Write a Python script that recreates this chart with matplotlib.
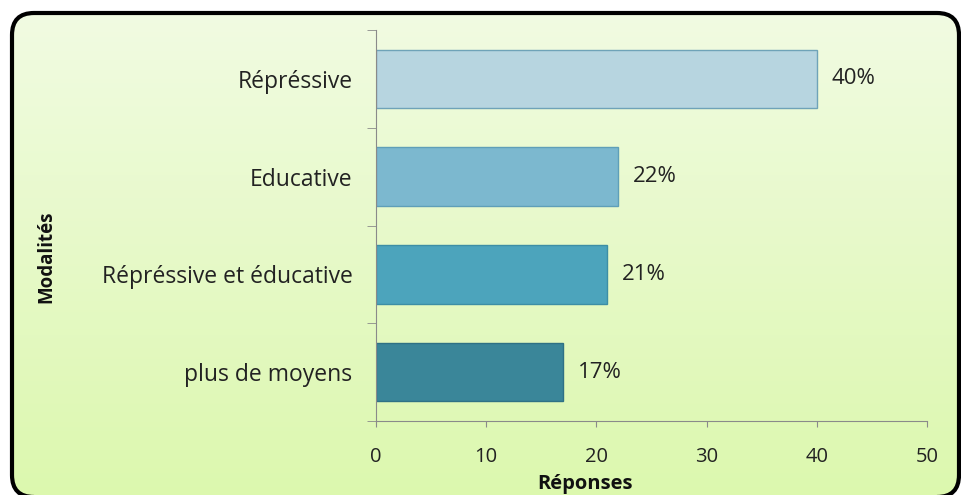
import numpy as np
import matplotlib
matplotlib.use("Agg")
import matplotlib.pyplot as plt
from matplotlib.patches import FancyBboxPatch

categories = ["Répréssive", "Educative", "Répréssive et éducative", "plus de moyens"]
values = [40, 22, 21, 17]
labels = ["40%", "22%", "21%", "17%"]
colors = ["#b7d5e0", "#7cb8cf", "#4ca4bc", "#3a8699"]
edges = ["#6fa3b8", "#5f9fb8", "#3d8ea5", "#2f7185"]

plt.rcParams["font.family"] = ["Open Sans", "DejaVu Sans"]

fig = plt.figure(figsize=(9.62, 4.95), dpi=100)

# panel background: rounded frame with a soft green vertical gradient
bg = fig.add_axes([0, 0, 1, 1], zorder=-1)
bg.set_xlim(0, 962)
bg.set_ylim(0, 495)
bg.axis("off")
frame = FancyBboxPatch((12, -2), 947, 484, boxstyle="round,pad=0,rounding_size=22",
                       facecolor="none", edgecolor="black", linewidth=3, zorder=3,
                       clip_on=False)
bg.add_patch(frame)
grad = np.linspace(1, 0, 256).reshape(-1, 1)
cmap = matplotlib.colors.LinearSegmentedColormap.from_list("g", ["#f1fbe2", "#dcf8ae"])
im = bg.imshow(grad, cmap=cmap, extent=[12, 959, -2, 482], aspect="auto", zorder=1,
               origin="lower")
im.set_clip_path(frame)

ax = fig.add_axes([376 / 962, 1 - 421 / 495, 551 / 962, 391 / 495])
ax.patch.set_alpha(0)
y = np.arange(len(categories))
ax.barh(y, values, height=0.6, color=colors, edgecolor=edges, linewidth=1)
for yi, v, lab in zip(y, values, labels):
    ax.text(v + 1.3, yi, lab, va="center", ha="left", fontsize=16, color="#222222")

ax.set_xlim(0, 50)
ax.set_ylim(len(categories) - 0.5, -0.5)
ax.set_xticks([0, 10, 20, 30, 40, 50])
ax.set_yticks(y)
ax.set_yticklabels(categories, fontsize=16.5, color="#222222")
ax.set_yticks(np.arange(-0.5, len(categories)), minor=True)
ax.tick_params(axis="y", which="major", length=0, pad=17)
ax.tick_params(axis="y", which="minor", length=6.5, color="#8a8a8a")
ax.tick_params(axis="x", length=4.5, direction="out", color="#8a8a8a", labelsize=14.5,
               labelcolor="#222222", pad=14)
for s in ["top", "right"]:
    ax.spines[s].set_visible(False)
for s in ["left", "bottom"]:
    ax.spines[s].set_color("#8a8a8a")

fig.text(585 / 962, 1 - 484 / 495, "Réponses", ha="center", va="center",
         fontsize=14.5, fontweight="bold", color="#111111")
fig.text(46 / 962, 1 - 257 / 495, "Modalités", ha="center", va="center",
         rotation=90, fontsize=13.5, fontweight="bold", color="#111111")

fig.savefig("out.png", dpi=100)
